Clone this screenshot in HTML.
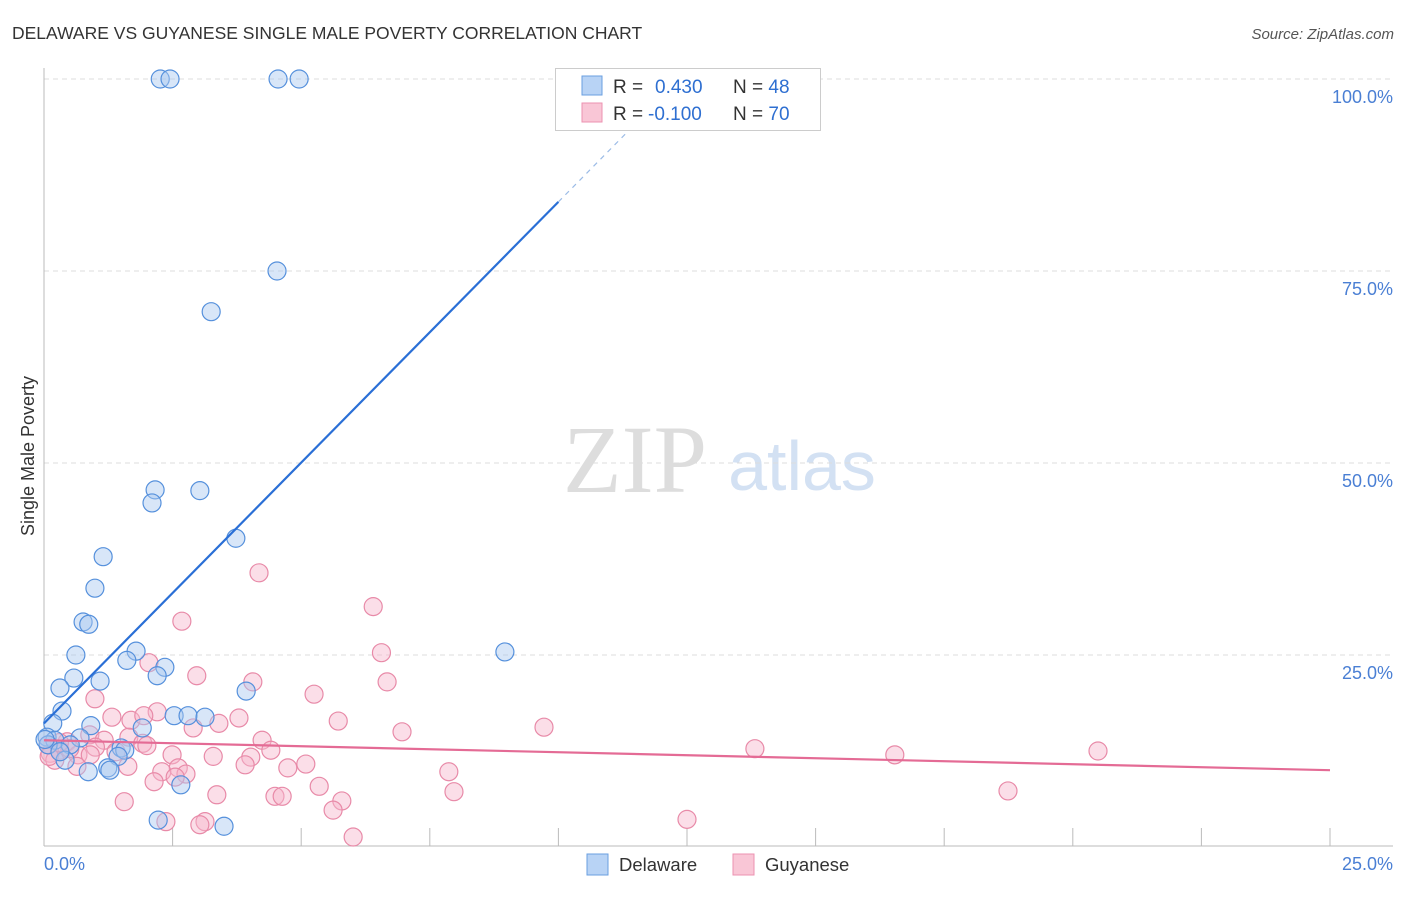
<!DOCTYPE html>
<html><head><meta charset="utf-8"><style>
body{margin:0;background:#fff;font-family:"Liberation Sans",sans-serif}
</style></head><body>
<svg id="c" width="1406" height="892" xmlns="http://www.w3.org/2000/svg">
<text x="12" y="39" font-size="17.5" fill="#333">DELAWARE VS GUYANESE SINGLE MALE POVERTY CORRELATION CHART</text>
<text x="1394" y="39" font-size="15" fill="#555" font-style="italic" text-anchor="end">Source: ZipAtlas.com</text>
<text x="635" y="492" font-size="96" fill="#ddd" font-family="Liberation Serif,serif" text-anchor="middle">ZIP</text>
<text x="802" y="490" font-size="70" fill="#d3e1f3" text-anchor="middle">atlas</text>
<g id="grid"></g><g id="axes"></g><g id="marks"></g>
<text transform="translate(34,456) rotate(-90)" font-size="18" fill="#333" text-anchor="middle">Single Male Poverty</text>
<g>
<rect x="555.5" y="68.5" width="265" height="62" fill="#fff" stroke="#ccc"/>
<rect x="582" y="76" width="20" height="19" fill="#b8d3f5" stroke="#6a9fe0"/>
<rect x="582" y="103" width="20" height="19" fill="#f9c6d6" stroke="#ec92b0"/>
<text x="613" y="93" font-size="19" fill="#333">R = <tspan fill="#2e6fd1" x="655">0.430</tspan><tspan x="733" fill="#333">N = </tspan><tspan fill="#2e6fd1">48</tspan></text>
<text x="613" y="120" font-size="19" fill="#333">R = <tspan fill="#2e6fd1" x="648">-0.100</tspan><tspan x="733" fill="#333">N = </tspan><tspan fill="#2e6fd1">70</tspan></text>
</g>
<g>
<rect x="587" y="854" width="21" height="21" fill="#b8d3f5" stroke="#6a9fe0"/>
<text x="619" y="871" font-size="18.5" fill="#333">Delaware</text>
<rect x="733" y="854" width="21" height="21" fill="#f9c6d6" stroke="#ec92b0"/>
<text x="765" y="871" font-size="18.5" fill="#333">Guyanese</text>
</g>
</svg>
<script>
const blueX=[2.26,2.45,4.55,4.96,4.53,3.25,2.16,2.10,3.03,3.73,1.15,0.99,0.76,0.87,0.62,1.79,1.61,2.35,2.20,0.58,1.09,0.31,3.93,8.96,0.35,2.53,2.80,3.13,0.17,0.91,1.91,0.06,0.21,0.70,0.51,1.50,1.57,1.44,0.41,1.24,0.86,1.28,2.66,2.22,3.50,0.08,0.31,0.02];
const blueY=[100,100,100,100,75,69.7,46.5,44.8,46.4,40.2,37.8,33.7,29.3,29.0,25.0,25.5,24.3,23.4,22.3,22.0,21.6,20.7,20.3,25.4,17.7,17.1,17.1,16.9,16.1,15.8,15.5,14.3,13.9,14.2,13.3,12.9,12.6,11.8,11.3,10.3,9.8,10.0,8.1,3.5,2.7,13.3,12.4,14.0];
const pinkX=[4.18,6.40,2.68,6.56,2.04,2.97,4.06,6.67,5.25,0.99,2.20,3.79,1.32,1.69,1.94,5.72,2.90,3.40,9.72,6.96,0.89,1.65,4.24,1.17,0.45,1.92,13.82,20.49,16.54,4.41,2.49,3.29,4.02,0.31,0.66,0.12,1.63,5.09,4.74,3.91,0.64,2.61,2.29,2.76,7.87,2.55,2.14,5.35,7.97,3.36,18.74,4.49,4.63,5.79,1.56,5.62,3.13,3.03,2.37,12.50,6.01,0.08,0.21,0.5,1.0,1.4,0.3,0.9,2.0,0.1];
const pinkY=[35.7,31.3,29.4,25.3,24.0,22.3,21.5,21.5,19.9,19.3,17.6,16.8,16.9,16.5,17.1,16.4,15.5,16.1,15.6,15.0,14.6,14.3,13.9,13.9,13.7,13.5,12.8,12.5,12.0,12.6,12.0,11.8,11.7,12.6,12.0,12.2,10.5,10.8,10.3,10.7,10.5,10.3,9.8,9.5,9.8,9.1,8.5,7.9,7.2,6.8,7.3,6.6,6.6,6.0,5.9,4.8,3.3,2.9,3.3,3.6,1.3,13.3,11.3,12.8,13.0,12.4,13.6,12.0,13.2,11.8];
const blueLine=[16.1,6.79]; // intercept, slope (% per %)
const pinkLine=[13.9,-0.156];
const yTicks=[25,50,75,100];
const xTicks=[0,2.5,5,7.5,10,12.5,15,17.5,20,22.5,25];
const NS="http://www.w3.org/2000/svg";
const X=v=>44+v/25*1286, Y=v=>847-v*7.68;
function mk(t,a,p){const e=document.createElementNS(NS,t);for(const k in a)e.setAttribute(k,a[k]);document.getElementById(p).appendChild(e);return e;}
yTicks.forEach(t=>{
 const l=mk('line',{x1:44,x2:1393,y1:Y(t),y2:Y(t),stroke:'#ddd','stroke-dasharray':'5,4'},'grid');
 
 
 const tx=mk('text',{x:1393,y:Y(t)+24,'font-size':18,fill:'#4a7fd4','text-anchor':'end'},'grid');
 tx.textContent=t.toFixed(1)+'%';
 
 
});
const ya=mk('line',{x1:44,x2:44,y1:68,y2:846,stroke:'#bbb'},'axes');


const xa=mk('line',{x1:44,x2:1393,y1:846,y2:846,stroke:'#bbb'},'axes');


xTicks.forEach(t=>{const l=mk('line',{x1:X(t),x2:X(t),y1:828,y2:846,stroke:'#bbb'},'axes');
 
 });
[[0,'start',44],[25,'end',1393]].forEach(([v,a,x])=>{const t=mk('text',{x:x,y:870,'font-size':18,fill:'#4a7fd4','text-anchor':a},'axes');t.textContent=v.toFixed(1)+'%';
 
 });
function pts(xs,ys,f,s,n){xs.forEach((x,i)=>{const c=mk('circle',{cx:X(x),cy:Y(ys[i]),r:9,fill:f,'fill-opacity':0.45,stroke:s,'stroke-width':1.2},'marks');
 
 });}
pts(pinkX,pinkY,'#f7b6cb','#e88aa8','guyanese-point');
pts(blueX,blueY,'#a9c8f0','#5590dc','delaware-point');
const xEnd=10, xTop=(100-blueLine[0])/blueLine[1];
let l=mk('line',{x1:X(0),y1:Y(blueLine[0]),x2:X(xEnd),y2:Y(blueLine[0]+blueLine[1]*xEnd),stroke:'#2a6fd6','stroke-width':2.2},'marks');


l=mk('line',{x1:X(xEnd),y1:Y(blueLine[0]+blueLine[1]*xEnd),x2:X(xTop),y2:Y(100),stroke:'#9bbbe6','stroke-width':1.2,'stroke-dasharray':'5,5'},'marks');


l=mk('line',{x1:X(0),y1:Y(pinkLine[0]),x2:X(25),y2:Y(pinkLine[0]+pinkLine[1]*25),stroke:'#e46b95','stroke-width':2.2},'marks');


</script>
</body></html>
